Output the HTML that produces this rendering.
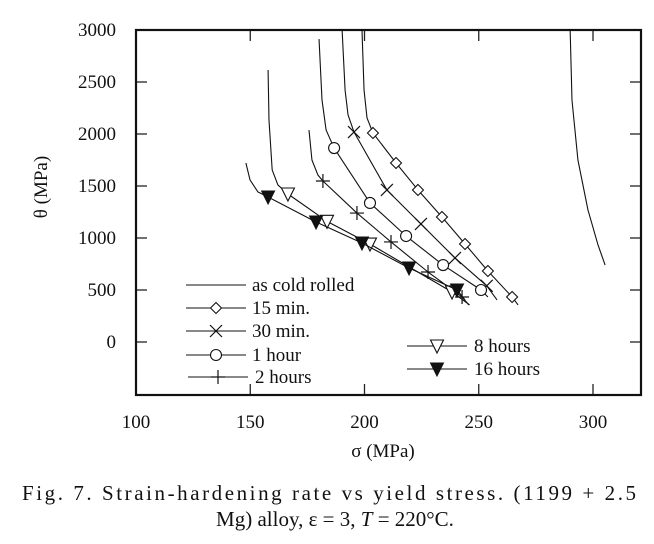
<!DOCTYPE html>
<html><head><meta charset="utf-8"><style>
body{margin:0;background:#fff;}
svg{display:block;font-family:"Liberation Serif",serif;}
</style></head><body>
<svg id="c" width="654" height="544" viewBox="0 0 654 544">
<g id="plot"></g>
<g font-size="21" fill="#111">
<text x="22" y="500" textLength="614" lengthAdjust="spacing">Fig. 7. Strain-hardening rate vs yield stress. (1199 + 2.5</text>
<text x="335" y="526" text-anchor="middle">Mg) alloy, ε = 3, <tspan font-style="italic">T</tspan> = 220°C.</text>
</g>
</svg>
<script>
const xTicks=[100,150,200,250,300];
const yTicks=[0,500,1000,1500,2000,2500,3000];
const coldX=[290,290.8,293.4,297.8,302.2,305.3];
const coldY=[3000,2327,1750,1269,933,740];
const m15X=[198.9,199.8,201.1,203.7,213.8,223.4,233.9,244,254,264.6,267.2];
const m15Y=[3000,2423,2154,2010,1721,1462,1202,942,683,433,356];
const m30X=[190.2,191.5,192.8,195.4,209.8,224.7,239.6,253.5,258];
const m30Y=[3000,2423,2183,2019,1462,1135,808,540,404];
const h1X=[180.1,181.4,183.2,186.7,202.4,218.2,234.4,251,254];
const h1Y=[2913,2327,2038,1865,1337,1019,740,500,433];
const h2X=[175.7,177,179.6,181.8,196.7,211.6,227.8,242.7,245.7];
const h2Y=[2038,1750,1606,1548,1240,962,673,433,356];
const h8X=[157.8,158.2,159.6,162.1,166.5,183.6,202.4,238.3,246];
const h8Y=[2615,2135,1654,1510,1423,1160,942,481,356];
const h16X=[148.1,149.9,153.4,157.8,178.8,198.9,219.5,240.5,244];
const h16Y=[1721,1558,1442,1394,1154,952,712,500,404];
const series=[
 {name:'cold-rolled',x:coldX,y:coldY,mk:'none',first:99},
 {name:'15-min',x:m15X,y:m15Y,mk:'diamond',first:3},
 {name:'30-min',x:m30X,y:m30Y,mk:'cross',first:3},
 {name:'1-hour',x:h1X,y:h1Y,mk:'circle',first:3},
 {name:'2-hours',x:h2X,y:h2Y,mk:'plus',first:3},
 {name:'8-hours',x:h8X,y:h8Y,mk:'tri',first:4},
 {name:'16-hours',x:h16X,y:h16Y,mk:'tri-filled',first:3}];
const L=136,T=30,R=641,B=395;
function sx(v){return L+(v-100)*2.285;}
function sy(v){return 342-v*0.104;}
const NS='http://www.w3.org/2000/svg';
const g=document.getElementById('plot');
function el(tag,attrs,parent){const e=document.createElementNS(NS,tag);for(const k in attrs)e.setAttribute(k,attrs[k]);(parent||g).appendChild(e);return e;}
xTicks.forEach(v=>{
 const t1=el('line',{x1:sx(v),x2:sx(v),y1:B,y2:B-11,stroke:'#222','stroke-width':1.3});
 
 
 const t2=el('line',{x1:sx(v),x2:sx(v),y1:T,y2:T+11,stroke:'#222','stroke-width':1.3});
 
 
 const tx=el('text',{x:sx(v),y:428,'text-anchor':'middle','font-size':19,fill:'#111'});
 tx.textContent=v;
 
 
});
yTicks.forEach(v=>{
 const t1=el('line',{x1:L,x2:L+11,y1:sy(v),y2:sy(v),stroke:'#222','stroke-width':1.3});
 
 
 const t2=el('line',{x1:R,x2:R-11,y1:sy(v),y2:sy(v),stroke:'#222','stroke-width':1.3});
 
 
 const tx=el('text',{x:116,y:sy(v)+6,'text-anchor':'end','font-size':19,fill:'#111'});
 tx.textContent=v;
 
 
});
const frame=el('rect',{x:L,y:T,width:R-L,height:B-T,fill:'none',stroke:'#111','stroke-width':2.2});


const xt=el('text',{x:383,y:457,'text-anchor':'middle','font-size':19,fill:'#111'});
xt.textContent='σ (MPa)';


const yt=el('text',{x:0,y:0,'text-anchor':'middle','font-size':19,fill:'#111',transform:'translate(47,187) rotate(-90)'});
yt.textContent='θ (MPa)';


function marker(type,x,y,parent){
 let e;
 const a={fill:'#fff',stroke:'#111','stroke-width':1.1};
 if(type==='diamond')e=el('polygon',Object.assign({points:`${x},${y-5.5} ${x+5.5},${y} ${x},${y+5.5} ${x-5.5},${y}`},a),parent);
 else if(type==='circle')e=el('circle',Object.assign({cx:x,cy:y,r:5.5},a),parent);
 else if(type==='cross')e=el('path',{d:`M${x-6} ${y-6}L${x+6} ${y+6}M${x-6} ${y+6}L${x+6} ${y-6}`,stroke:'#111','stroke-width':1.2},parent);
 else if(type==='plus')e=el('path',{d:`M${x-7} ${y}L${x+7} ${y}M${x} ${y-7}L${x} ${y+7}`,stroke:'#111','stroke-width':1.2},parent);
 else if(type==='tri')e=el('polygon',Object.assign({points:`${x-6.5},${y-6} ${x+6.5},${y-6} ${x},${y+7}`},a),parent);
 else if(type==='tri-filled')e=el('polygon',{points:`${x-6.5},${y-6} ${x+6.5},${y-6} ${x},${y+7}`,fill:'#111',stroke:'#111'},parent);
 return e;
}
series.forEach(s=>{
 const sg=el('g',{});
 
 
 const pts=s.x.map((v,i)=>sx(v)+','+sy(s.y[i])).join(' ');
 const pl=el('polyline',{points:pts,fill:'none',stroke:'#111','stroke-width':1.1,'stroke-linejoin':'round'},sg);
 
 
 s.x.forEach((v,i)=>{
  if(i<s.first||i===s.x.length-1)return;
  const m=marker(s.mk,sx(v),sy(s.y[i]),sg);
  
  
 });
});
const leg=[['none','as cold rolled',186,252,285],['diamond','15 min.',186,252,308],['cross','30 min.',186,252,331],['circle','1 hour',186,252,355],['plus','2 hours',188,255,377],['tri','8 hours',407,474,346],['tri-filled','16 hours',407,474,369]];
leg.forEach(l=>{
 const lg=el('g',{});
 
 
 el('line',{x1:l[2],x2:l[2]+60,y1:l[4],y2:l[4],stroke:'#111','stroke-width':1.1},lg);
 if(l[0]!=='none')marker(l[0],l[2]+30,l[4],lg);
 const t=el('text',{x:l[3],y:l[4]+6,'font-size':19,fill:'#111'},lg);
 t.textContent=l[1];
});
</script>
</body></html>
